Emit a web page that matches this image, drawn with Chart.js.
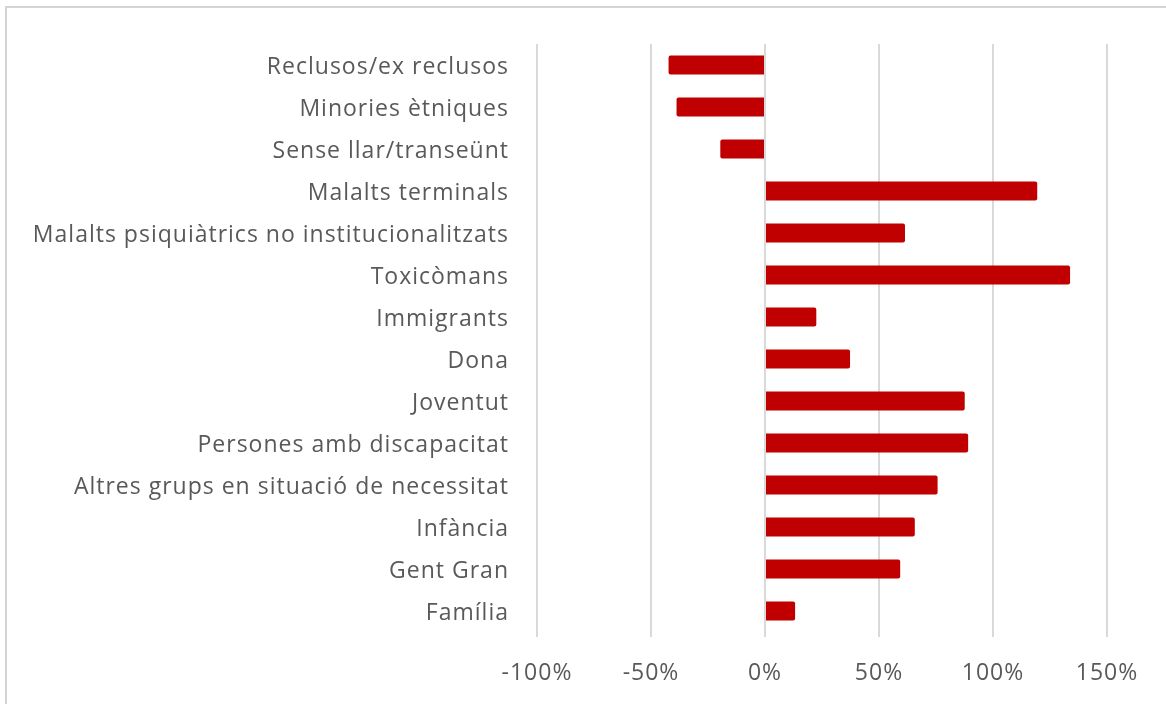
<!DOCTYPE html>
<html>
<head>
<meta charset="utf-8">
<script src="https://cdn.jsdelivr.net/npm/chart.js@4/dist/chart.umd.min.js"></script>
<style>
  html, body { margin: 0; padding: 0; background: #fff; }
  #wrap { position: relative; width: 1166px; height: 704px; }
  #frame { position: absolute; left: 5px; top: 6px; right: -4px; bottom: -4px;
           border-left: 2px solid #d4d4d4; border-top: 2px solid #d4d4d4; }
  canvas { position: absolute; left: 0; top: 0; }
</style>
</head>
<body>
<div id="wrap">
  <div id="frame"></div>
  <canvas id="chart" width="1166" height="704"></canvas>
</div>
<script>
// categories, top to bottom
const groups = [
  'Reclusos/ex reclusos',
  'Minories ètniques',
  'Sense llar/transeünt',
  'Malalts terminals',
  'Malalts psiquiàtrics no institucionalitzats',
  'Toxicòmans',
  'Immigrants',
  'Dona',
  'Joventut',
  'Persones amb discapacitat',
  'Altres grups en situació de necessitat',
  'Infància',
  'Gent Gran',
  'Família'
];
// % change
const change = [-42.3, -38.8, -19.6, 119.4, 61.4, 133.8, 22.5, 37.3, 87.6, 89.1, 75.7, 65.7, 59.3, 13.2];
const xTicks = [-100, -50, 0, 50, 100, 150];

const font = { family: '"Open Sans", Lato, sans-serif', size: 23 };

// slightly wider text, like the original
const spacing = {
  id: 'spacing',
  beforeDraw: chart => { chart.ctx.letterSpacing = '1px'; }
};

const ctx = document.getElementById('chart').getContext('2d');
new Chart(ctx, {
  type: 'bar',
  data: {
    labels: groups,
    datasets: [{
      data: change,
      backgroundColor: '#c00000',
      borderRadius: 2,
      borderSkipped: 'start',
      barPercentage: 0.45,
      categoryPercentage: 1
    }]
  },
  options: {
    indexAxis: 'y',
    responsive: false,
    animation: false,
    layout: { padding: { top: 44, right: 59, left: 0, bottom: 0 } },
    plugins: { legend: { display: false }, tooltip: { enabled: false } },
    scales: {
      x: {
        min: -100,
        max: 150,
        afterBuildTicks: s => { s.ticks = xTicks.map(v => ({ value: v })); },
        afterFit: s => { s.height = 72; },
        grid: { color: '#d9d9d9', lineWidth: 2, drawTicks: true, tickLength: 5, tickColor: '#d9d9d9' },
        border: { display: false },
        ticks: {
          color: '#595959',
          font: font,
          padding: 23,
          callback: v => v + '%'
        }
      },
      y: {
        afterFit: s => { s.width = 537; },
        grid: { display: false },
        border: { display: false },
        ticks: { color: '#595959', font: font, padding: 20, labelOffset: 2, autoSkip: false }
      }
    }
  },
  plugins: [spacing]
});
</script>
</body>
</html>
